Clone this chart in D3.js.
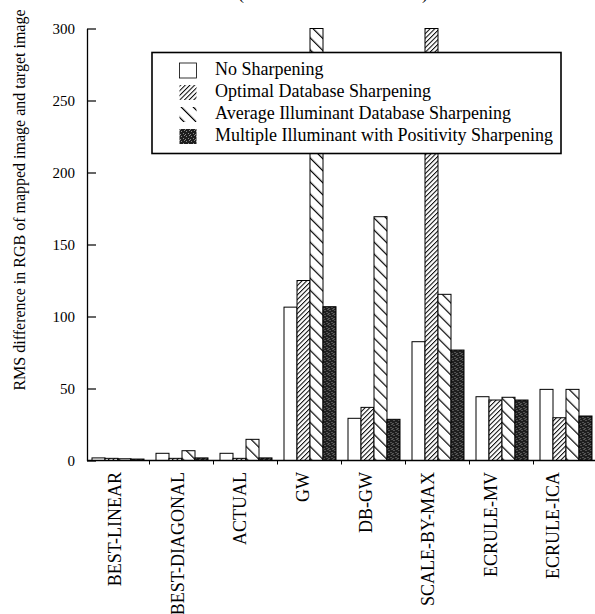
<!DOCTYPE html>
<html>
<head>
<meta charset="utf-8">
<script src="https://cdn.jsdelivr.net/npm/d3@7"></script>
<style>
  body { margin: 0; background: #fff; }
  text { font-family: "Liberation Serif", "DejaVu Serif", serif; fill: #000; }
</style>
</head>
<body>
<div id="chart"></div>
<script>
// data (values above 300 run off the top of the axis)
var categories = ["BEST-LINEAR", "BEST-DIAGONAL", "ACTUAL", "GW", "DB-GW", "SCALE-BY-MAX", "ECRULE-MV", "ECRULE-ICA"];
var seriesNames = [
  "No Sharpening",
  "Optimal Database Sharpening",
  "Average Illuminant Database Sharpening",
  "Multiple Illuminant with Positivity Sharpening"
];
var noSharpening     = [1.8, 5.0, 5.0, 106.5, 29.3, 82.5, 44.3, 49.4];
var optimalDatabase  = [1.5, 1.5, 1.5, 125.0, 36.9, 340, 42.0, 29.7];
var averageIllum     = [1.2, 6.8, 14.7, 330, 169.3, 115.4, 43.9, 49.4];
var multipleIllum    = [1.0, 1.8, 1.8, 106.8, 28.6, 76.7, 42.0, 30.9];
var yTicks = [0, 50, 100, 150, 200, 250, 300];

var seriesValues = [noSharpening, optimalDatabase, averageIllum, multipleIllum];

var svgWidth = 595;
var svgHeight = 614;

var svg = d3.select("#chart")
  .append("svg")
  .attr("width", svgWidth)
  .attr("height", svgHeight)
  .style("display", "block");

// fill patterns for the four series
var defs = svg.append("defs");

defs.append("pattern")
  .attr("id", "hatchOptimal")
  .attr("patternUnits", "userSpaceOnUse")
  .attr("width", 3.3)
  .attr("height", 3.3)
  .attr("patternTransform", "rotate(45)")
  .call(function(p) {
    p.append("rect").attr("width", 3.3).attr("height", 3.3).attr("fill", "#fff");
    p.append("line").attr("x1", 0.5).attr("y1", 0).attr("x2", 0.5).attr("y2", 3.3)
      .attr("stroke", "#000").attr("stroke-width", 1);
  });

defs.append("pattern")
  .attr("id", "hatchAverage")
  .attr("patternUnits", "userSpaceOnUse")
  .attr("width", 8.5)
  .attr("height", 8.5)
  .attr("patternTransform", "rotate(-45)")
  .call(function(p) {
    p.append("rect").attr("width", 8.5).attr("height", 8.5).attr("fill", "#fff");
    p.append("line").attr("x1", 0.6).attr("y1", 0).attr("x2", 0.6).attr("y2", 8.5)
      .attr("stroke", "#000").attr("stroke-width", 1.2);
  });

defs.append("pattern")
  .attr("id", "stipple")
  .attr("patternUnits", "userSpaceOnUse")
  .attr("width", 5)
  .attr("height", 5)
  .call(function(p) {
    p.append("rect").attr("width", 5).attr("height", 5).attr("fill", "#1e1e1e");
    [[1, 0], [3, 2], [0, 3], [4, 4]].forEach(function(d) {
      p.append("rect").attr("x", d[0]).attr("y", d[1]).attr("width", 1).attr("height", 1).attr("fill", "#8a8a8a");
    });
  });

var fills = ["#fff", "url(#hatchOptimal)", "url(#hatchAverage)", "url(#stipple)"];

// scales
var axisLeftX = 87;
var axisRightX = 595;

var x0 = d3.scaleBand()
  .domain(categories)
  .range([91.5, 591.5])
  .paddingInner(0.1875)
  .paddingOuter(0);

var x1 = d3.scaleBand()
  .domain(d3.range(seriesNames.length))
  .range([0, x0.bandwidth()]);

var y = d3.scaleLinear()
  .domain([0, 300])
  .range([460.5, 28.5])
  .clamp(true);

// labels sit slightly left of the bar groups in the original
var labelX = d3.scalePoint()
  .domain(categories)
  .range([115, 553]);

// bars
var groups = svg.append("g")
  .selectAll("g")
  .data(categories)
  .enter()
  .append("g")
  .attr("transform", d => `translate(${x0(d)},0)`);

groups.selectAll("rect")
  .data((c, i) => seriesValues.map((vals, s) => ({ s: s, v: vals[i] })))
  .enter()
  .append("rect")
  .attr("x", d => x1(d.s) + 0.5)
  .attr("y", d => y(d.v))
  .attr("width", x1.bandwidth())
  .attr("height", d => y(0) - y(d.v))
  .attr("fill", d => fills[d.s])
  .attr("stroke", "#000")
  .attr("stroke-width", 1);

// y axis, ticks point inward
var leftAxis = d3.axisLeft(y)
  .tickValues(yTicks)
  .tickSizeInner(-9)
  .tickSizeOuter(0)
  .tickPadding(12);

var yAxis = svg.append("g")
  .attr("transform", `translate(${axisLeftX},0)`)
  .call(leftAxis);

yAxis.select(".domain").attr("stroke", "#000").attr("stroke-width", 1.3);
yAxis.selectAll(".tick line").attr("stroke", "#000").attr("stroke-width", 1.2);
yAxis.selectAll(".tick text")
  .style("font-family", "'Liberation Serif', serif")
  .style("font-size", "15px");

// x baseline and the small marks between groups
svg.append("line")
  .attr("x1", axisLeftX)
  .attr("x2", axisRightX)
  .attr("y1", y(0))
  .attr("y2", y(0))
  .attr("stroke", "#000")
  .attr("stroke-width", 1.5);

svg.append("g")
  .selectAll("line")
  .data(categories.slice(1))
  .enter()
  .append("line")
  .attr("x1", d => x0(d) - x0.step() * x0.paddingInner() / 2)
  .attr("x2", d => x0(d) - x0.step() * x0.paddingInner() / 2)
  .attr("y1", y(0))
  .attr("y2", y(0) + 4)
  .attr("stroke", "#000")
  .attr("stroke-width", 1);

// category labels, rotated, reading upward from the bottom
svg.append("g")
  .selectAll("text")
  .data(categories)
  .enter()
  .append("text")
  .attr("transform", d => `translate(${labelX(d)},472) rotate(-90)`)
  .attr("dy", "0.35em")
  .attr("text-anchor", "end")
  .style("font-size", "18px")
  .text(d => d);

// y axis title
svg.append("text")
  .attr("transform", "translate(19,200) rotate(-90)")
  .attr("dy", "0.35em")
  .attr("text-anchor", "middle")
  .style("font-size", "16px")
  .text("RMS difference in RGB of mapped image and target image");

// bottom of the cut-off title
svg.append("text").attr("x", 238).attr("y", -1).style("font-size", "18px").text("(");
svg.append("text").attr("x", 422).attr("y", -1).style("font-size", "18px").text(")");

// legend
var legend = svg.append("g");

legend.append("rect")
  .attr("x", 152)
  .attr("y", 52.5)
  .attr("width", 409)
  .attr("height", 101)
  .attr("fill", "#fff")
  .attr("stroke", "#000")
  .attr("stroke-width", 1.6);

var legendRows = legend.selectAll("g.row")
  .data(seriesNames)
  .enter()
  .append("g")
  .attr("class", "row")
  .attr("transform", (d, i) => `translate(0,${75 + i * 22})`);

legendRows.append("rect")
  .attr("x", 179.5)
  .attr("y", -12)
  .attr("width", 17)
  .attr("height", 15)
  .attr("fill", (d, i) => fills[i])
  .attr("stroke", (d, i) => i === 0 ? "#000" : "none")
  .attr("stroke-width", 0.8);

legendRows.append("text")
  .attr("x", 215)
  .attr("y", 0)
  .style("font-size", "18px")
  .text(d => d);
</script>
</body>
</html>
